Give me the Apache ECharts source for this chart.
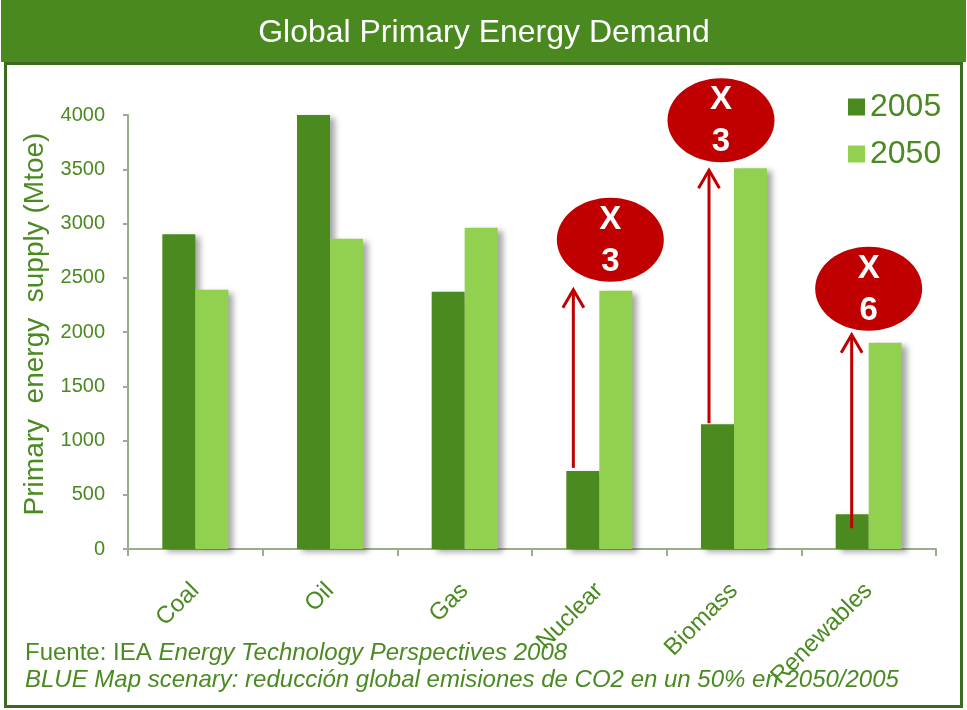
<!DOCTYPE html>
<html>
<head>
<meta charset="utf-8">
<title>Global Primary Energy Demand</title>
<script src="https://cdn.jsdelivr.net/npm/echarts@6/dist/echarts.min.js"></script>
<style>
  html, body { margin: 0; padding: 0; background: #fff; }
  #main { width: 967px; height: 710px; }
</style>
</head>
<body>
<div id="main"></div>
<script>
// data
var categories = ['Coal', 'Oil', 'Gas', 'Nuclear', 'Biomass', 'Renewables'];
var seriesNames = ['2005', '2050'];
var values2005 = [2900, 4000, 2370, 720, 1150, 320];
var values2050 = [2390, 2860, 2960, 2380, 3510, 1900];
var yTicks = [0, 500, 1000, 1500, 2000, 2500, 3000, 3500, 4000];
// growth call-outs (category, factor)
var growthCats = ['Nuclear', 'Biomass', 'Renewables'];
var growthFactors = ['3', '3', '6'];

// pixel tweaks for the call-outs: arrow x, base y, tip y, ellipse x, ellipse y
var calloutOffsets = [
  { ax: -26, by: -3, ty: -1, ex: 37, ey: -50 },
  { ax: -25, by: -1, ty: 2, ex: 12, ey: -50 },
  { ax: -17, by: 14, ty: -8, ex: 17, ey: -46 }
];

var green = '#4a8a20';
var darkGreen = '#4b8a1f';
var lightGreen = '#92d050';
var red = '#c00000';
var axisColor = '#97b08b';
var font = 'Liberation Sans, Arial, sans-serif';

var calloutData = growthCats.map(function (c) {
  var i = categories.indexOf(c);
  return [c, values2005[i], values2050[i]];
});

var myChart = echarts.init(document.getElementById('main'));

myChart.setOption({
  animation: false,
  textStyle: { fontFamily: font },
  grid: { left: 128, right: 31, top: 115, bottom: 161 },
  legend: {
    orient: 'vertical',
    left: 843,
    top: 86,
    icon: 'rect',
    itemWidth: 17,
    itemHeight: 17,
    itemGap: 15,
    textStyle: { color: green, fontSize: 32, lineHeight: 32, fontFamily: font },
    data: seriesNames
  },
  graphic: [
    {
      type: 'rect',
      shape: { x: 1, y: 0, width: 965, height: 62 },
      style: { fill: '#4a8820' },
      z: 1
    },
    {
      type: 'rect',
      shape: { x: 5.5, y: 63.5, width: 956, height: 643 },
      style: { fill: 'none', stroke: '#3d6a1e', lineWidth: 3 },
      z: 1
    },
    {
      type: 'text',
      x: 484,
      y: 33,
      style: {
        text: 'Global Primary Energy Demand',
        fill: '#fff',
        font: '32px ' + font,
        textAlign: 'center',
        textVerticalAlign: 'middle'
      },
      z: 2
    },
    {
      type: 'text',
      x: 25,
      y: 653,
      style: {
        text: '{n|Fuente: IEA }{i|Energy Technology Perspectives 2008}',
        textVerticalAlign: 'middle',
        rich: {
          n: { fill: green, fontSize: 24, fontFamily: font },
          i: { fill: green, fontSize: 24, fontFamily: font, fontStyle: 'italic' }
        }
      },
      z: 2
    },
    {
      type: 'text',
      x: 25,
      y: 680,
      style: {
        text: 'BLUE Map scenary: reducción global emisiones de CO2 en un 50% en 2050/2005',
        fill: green,
        font: 'italic 24px ' + font,
        textVerticalAlign: 'middle'
      },
      z: 2
    }
  ],
  xAxis: {
    type: 'category',
    data: categories,
    axisLine: { lineStyle: { color: axisColor, width: 2 } },
    axisTick: { show: true, length: 7, lineStyle: { color: axisColor, width: 2 } },
    axisLabel: { color: green, fontSize: 24, rotate: 45, margin: 38, interval: 0 }
  },
  yAxis: {
    type: 'value',
    min: yTicks[0],
    max: yTicks[yTicks.length - 1],
    interval: yTicks[1] - yTicks[0],
    name: 'Primary  energy  supply (Mtoe)',
    nameLocation: 'middle',
    nameGap: 76,
    nameTextStyle: { color: green, fontSize: 28, padding: [0, 0, 0, 16] },
    axisLine: { show: true, lineStyle: { color: axisColor, width: 2 } },
    axisTick: { show: true, length: 5, lineStyle: { color: axisColor, width: 2 } },
    axisLabel: {
      color: green,
      fontSize: 20,
      margin: 23,
      formatter: function (v) { return String(v); }
    },
    splitLine: { show: false }
  },
  series: [
    {
      name: seriesNames[0],
      type: 'bar',
      barWidth: 33,
      barGap: '0%',
      data: values2005,
      itemStyle: {
        color: darkGreen,
        shadowColor: 'rgba(0,0,0,0.35)',
        shadowBlur: 6,
        shadowOffsetX: 5,
        shadowOffsetY: 3
      }
    },
    {
      name: seriesNames[1],
      type: 'bar',
      barWidth: 33,
      data: values2050,
      itemStyle: {
        color: lightGreen,
        shadowColor: 'rgba(0,0,0,0.35)',
        shadowBlur: 6,
        shadowOffsetX: 5,
        shadowOffsetY: 3
      }
    },
    {
      type: 'custom',
      z: 10,
      data: calloutData,
      encode: { x: 0, y: 1 },
      renderItem: function (params, api) {
        var o = calloutOffsets[params.dataIndex];
        var base = api.coord([api.value(0), api.value(1)]);
        var tip = api.coord([api.value(0), api.value(2)]);
        var x = base[0] + o.ax;
        var y0 = base[1] + o.by;
        var y1 = tip[1] + o.ty;
        var ex = x + o.ex;
        var ey = y1 + o.ey;
        return {
          type: 'group',
          children: [
            {
              type: 'line',
              shape: { x1: x, y1: y0, x2: x, y2: y1 + 1 },
              style: { stroke: red, lineWidth: 3 }
            },
            {
              type: 'polyline',
              shape: { points: [[x - 10.5, y1 + 18], [x, y1], [x + 10.5, y1 + 18]] },
              style: { stroke: red, lineWidth: 3, fill: 'none' }
            },
            {
              type: 'ellipse',
              shape: { cx: ex, cy: ey, rx: 53.5, ry: 42 },
              style: { fill: red }
            },
            {
              type: 'text',
              x: ex,
              y: ey - 20,
              style: {
                text: 'X',
                fill: '#fff',
                font: 'bold 33px ' + font,
                textAlign: 'center',
                textVerticalAlign: 'middle'
              }
            },
            {
              type: 'text',
              x: ex,
              y: ey + 22,
              style: {
                text: growthFactors[params.dataIndex],
                fill: '#fff',
                font: 'bold 33px ' + font,
                textAlign: 'center',
                textVerticalAlign: 'middle'
              }
            }
          ]
        };
      }
    }
  ]
});
</script>
</body>
</html>
